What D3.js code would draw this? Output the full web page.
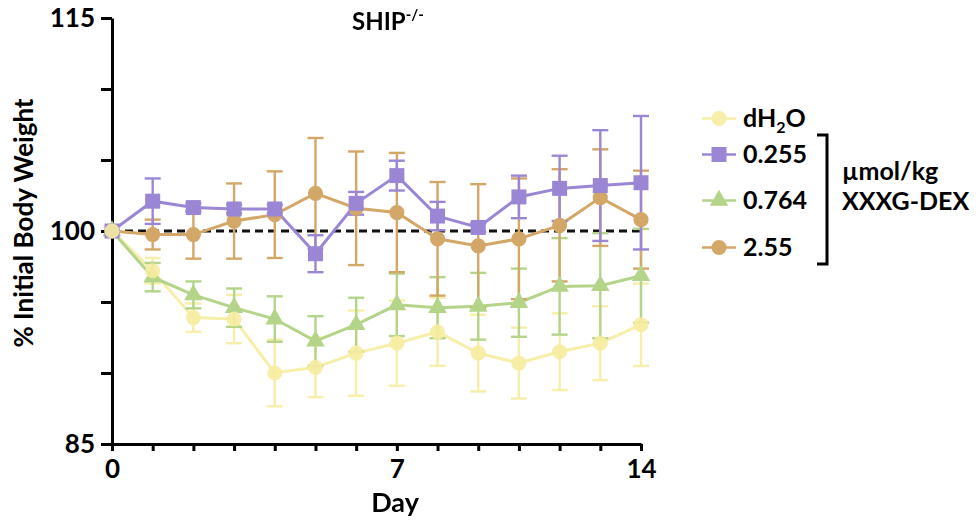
<!DOCTYPE html>
<html>
<head>
<meta charset="utf-8">
<script src="https://cdn.jsdelivr.net/npm/d3@7"></script>
<style>
  body { margin: 0; background: #fff; }
  svg text { font-family: Lato, "Open Sans", sans-serif; font-weight: 700; fill: #000; }
</style>
</head>
<body>
<svg id="chart" width="976" height="524"></svg>
<script>
// time points (the axis is drawn as 14 evenly spaced points, labelled 0 / 7 / 14)
const timePoints = [0, 1, 2, 3, 4, 5, 6, 7, 8, 9, 10, 11, 12, 13];
const xTickAt = [0, 7, 13];
const xTickText = ['0', '7', '14'];
const yTicks = [85, 90, 95, 100, 105, 110, 115];
const yTickText = ['85', '', '', '100', '', '', '115'];

// mean % of initial body weight and error (SEM) per time point
const dh2oMean = [100, 97.2, 93.9, 93.8, 90.0, 90.4, 91.4, 92.1, 92.9, 91.4, 90.7, 91.5, 92.1, 93.4];
const dh2oErr = [0, 0.9, 1.0, 1.7, 2.35, 2.1, 3.0, 3.0, 2.4, 2.7, 2.5, 2.7, 2.6, 2.9];
const dose0255Mean = [100, 102.1, 101.65, 101.55, 101.55, 98.4, 101.95, 103.9, 101.05, 100.25, 102.4, 103.0, 103.2, 103.4];
const dose0255Err = [0, 1.6, 0.3, 0.3, 0.3, 1.3, 0.8, 1.05, 1.0, 0.3, 1.5, 2.3, 3.9, 4.7];
const dose0764Mean = [100, 96.75, 95.5, 94.6, 93.8, 92.25, 93.4, 94.8, 94.6, 94.7, 94.95, 96.1, 96.15, 96.85];
const dose0764Err = [0, 1.0, 0.95, 1.35, 1.6, 1.75, 1.9, 2.2, 2.15, 2.35, 2.4, 3.4, 3.7, 3.3];
const dose255Mean = [100, 99.75, 99.75, 100.7, 101.15, 102.65, 101.6, 101.3, 99.45, 98.95, 99.45, 100.4, 102.35, 100.8];
const dose255Err = [0, 1.05, 1.7, 2.65, 3.05, 3.9, 4.0, 4.2, 4.0, 4.35, 4.25, 3.95, 3.4, 3.45];

const baseline = 100;

const series = [
  {name: 'dH2O', mean: dh2oMean, err: dh2oErr, color: '#f6eda0', symbol: d3.symbolCircle, size: 180, opacity: 0.9},
  {name: '0.764', mean: dose0764Mean, err: dose0764Err, color: '#b4d489', symbol: d3.symbolTriangle, size: 150, opacity: 1},
  {name: '2.55', mean: dose255Mean, err: dose255Err, color: '#d3a767', symbol: d3.symbolCircle, size: 180, opacity: 1},
  {name: '0.255', mean: dose0255Mean, err: dose0255Err, color: '#9b86d6', symbol: d3.symbolSquare, size: 225, opacity: 1}
];

const svg = d3.select('#chart');

const x = d3.scaleLinear().domain([0, 13]).range([112, 641]);
const y = d3.scaleLinear().domain([85, 115]).range([444, 18]);

// axes
const yAxis = d3.axisLeft(y)
  .tickValues(yTicks)
  .tickSize(11)
  .tickSizeOuter(0)
  .tickPadding(6)
  .tickFormat((d, i) => yTickText[i]);

const xAxis = d3.axisBottom(x)
  .tickValues(timePoints)
  .tickSize(7)
  .tickSizeOuter(0)
  .tickPadding(8)
  .tickFormat(d => {
    const k = xTickAt.indexOf(d);
    return k < 0 ? '' : xTickText[k];
  });

const axisY = svg.append('g')
  .attr('class', 'y axis')
  .attr('transform', `translate(${x(0)}, 0)`)
  .call(yAxis);

const axisX = svg.append('g')
  .attr('class', 'x axis')
  .attr('transform', `translate(0, ${y(85)})`)
  .call(xAxis);

svg.selectAll('.axis path, .axis line')
  .attr('stroke', '#000')
  .attr('stroke-width', 3);
svg.selectAll('.axis text')
  .style('font-size', '26px');
axisX.selectAll('text').attr('dy', '0.72em');

// dashed reference at 100 %
svg.append('line')
  .attr('x1', x(0))
  .attr('x2', x(13))
  .attr('y1', y(baseline))
  .attr('y2', y(baseline))
  .attr('stroke', '#111')
  .attr('stroke-width', 3)
  .attr('stroke-dasharray', '8,5');

const line = d3.line()
  .x((d, i) => x(timePoints[i]))
  .y(d => y(d));

// error bars and lines
series.forEach(s => {
  const g = svg.append('g')
    .attr('class', 'series')
    .attr('opacity', s.opacity);

  const bars = g.selectAll('.err')
    .data(s.mean.map((m, i) => ({t: timePoints[i], m: m, e: s.err[i]})).filter(d => d.e > 0))
    .join('g')
    .attr('class', 'err')
    .attr('stroke', s.color)
    .attr('stroke-width', 2.4);

  bars.append('line')
    .attr('x1', d => x(d.t)).attr('x2', d => x(d.t))
    .attr('y1', d => y(d.m - d.e)).attr('y2', d => y(d.m + d.e));
  bars.append('line')
    .attr('x1', d => x(d.t) - 8).attr('x2', d => x(d.t) + 8)
    .attr('y1', d => y(d.m + d.e)).attr('y2', d => y(d.m + d.e));
  bars.append('line')
    .attr('x1', d => x(d.t) - 8).attr('x2', d => x(d.t) + 8)
    .attr('y1', d => y(d.m - d.e)).attr('y2', d => y(d.m - d.e));

  g.append('path')
    .datum(s.mean)
    .attr('fill', 'none')
    .attr('stroke', s.color)
    .attr('stroke-width', 3)
    .attr('d', line);
});

// markers on top
const markerOrder = ['0.764', '2.55', '0.255', 'dH2O'];
markerOrder.forEach(name => {
  const s = series.find(d => d.name === name);
  svg.append('g')
    .attr('opacity', s.opacity)
    .selectAll('path')
    .data(s.mean)
    .join('path')
    .attr('transform', (d, i) => `translate(${x(timePoints[i])}, ${y(d)})`)
    .attr('d', d3.symbol().type(s.symbol).size(s.size))
    .attr('fill', s.color);
});

// titles
const title = svg.append('text')
  .attr('x', 352)
  .attr('y', 30)
  .style('font-size', '24px')
  .text('SHIP');
title.append('tspan')
  .attr('dy', -10)
  .style('font-size', '15px')
  .text('-/-');

svg.append('text')
  .attr('x', 395)
  .attr('y', 512)
  .attr('text-anchor', 'middle')
  .style('font-size', '27px')
  .text('Day');

svg.append('text')
  .attr('transform', 'translate(33, 223) rotate(-90)')
  .attr('text-anchor', 'middle')
  .style('font-size', '26px')
  .text('% Initial Body Weight');

// legend
const legendRows = [
  {name: 'dH2O', y: 127},
  {name: '0.255', y: 163},
  {name: '0.764', y: 209},
  {name: '2.55', y: 256}
];
const legend = svg.append('g').attr('class', 'legend');
legendRows.forEach(r => {
  const s = series.find(d => d.name === r.name);
  const cy = r.y - 8.5;
  const g = legend.append('g').attr('opacity', s.opacity);
  g.append('line')
    .attr('x1', 702).attr('x2', 736)
    .attr('y1', cy).attr('y2', cy)
    .attr('stroke', s.color)
    .attr('stroke-width', 2.6);
  g.append('path')
    .attr('transform', `translate(719, ${cy})`)
    .attr('d', d3.symbol().type(s.symbol).size(s.size))
    .attr('fill', s.color);
  const t = legend.append('text')
    .attr('x', 743)
    .attr('y', r.y)
    .style('font-size', '25px');
  if (r.name === 'dH2O') {
    t.append('tspan').text('dH');
    t.append('tspan').attr('dy', 6).style('font-size', '16px').text('2');
    t.append('tspan').attr('dy', -6).text('O');
  } else {
    t.text(r.name);
  }
});

legend.append('path')
  .attr('d', 'M817,135H827V264H817')
  .attr('fill', 'none')
  .attr('stroke', '#000')
  .attr('stroke-width', 3);
legend.append('text')
  .attr('x', 842).attr('y', 180)
  .style('font-size', '25px')
  .text('µmol/kg');
legend.append('text')
  .attr('x', 842).attr('y', 210)
  .style('font-size', '25px')
  .text('XXXG-DEX');
</script>
</body>
</html>
